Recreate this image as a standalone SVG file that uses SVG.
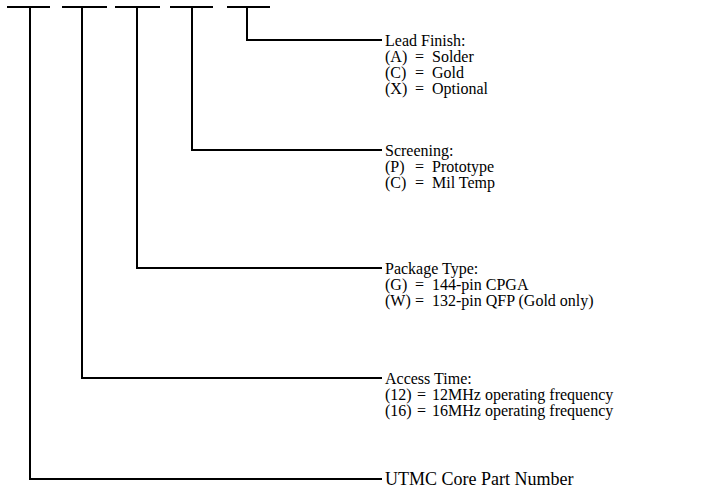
<svg xmlns="http://www.w3.org/2000/svg" width="702" height="492" viewBox="0 0 702 492">
<style>
.ln{fill:none;stroke:#000;stroke-width:2;stroke-linecap:butt;stroke-linejoin:miter}
text{font-family:"Liberation Serif","Times New Roman",serif;font-size:16px;fill:#000}
.big{font-size:18px}
</style>
<rect width="702" height="492" fill="#fff"/>
<g id="connectors">
<path class="ln" d="M7 7H50M62 7H107M115 7H160M170 7H213M227 7H270"/>
<path class="ln" d="M247 7V40H382"/>
<path class="ln" d="M192 7V150H382"/>
<path class="ln" d="M137 7V268H382"/>
<path class="ln" d="M82 7V378H382"/>
<path class="ln" d="M30 7V479H382"/>
</g>
<g id="lead-finish">
<text x="385" y="46">Lead Finish:</text>
<text x="385" y="62">(A)</text><text x="415" y="62">=</text><text x="432" y="62">Solder</text>
<text x="385" y="78">(C)</text><text x="415" y="78">=</text><text x="432" y="78">Gold</text>
<text x="385" y="94">(X)</text><text x="415" y="94">=</text><text x="432" y="94">Optional</text>
</g>
<g id="screening">
<text x="385" y="156">Screening:</text>
<text x="385" y="172">(P)</text><text x="415" y="172">=</text><text x="432" y="172">Prototype</text>
<text x="385" y="188">(C)</text><text x="415" y="188">=</text><text x="432" y="188">Mil Temp</text>
</g>
<g id="package-type">
<text x="385" y="274">Package Type:</text>
<text x="385" y="290">(G)</text><text x="415" y="290">=</text><text x="432" y="290">144-pin CPGA</text>
<text x="385" y="306">(W)</text><text x="415" y="306">=</text><text x="432" y="306">132-pin QFP (Gold only)</text>
</g>
<g id="access-time">
<text x="385" y="384">Access Time:</text>
<text x="385" y="400">(12)</text><text x="417" y="400">=</text><text x="432" y="400">12MHz operating frequency</text>
<text x="385" y="416">(16)</text><text x="417" y="416">=</text><text x="432" y="416">16MHz operating frequency</text>
</g>
<g id="core-part">
<text class="big" x="385" y="485">UTMC Core Part Number</text>
</g>
</svg>
